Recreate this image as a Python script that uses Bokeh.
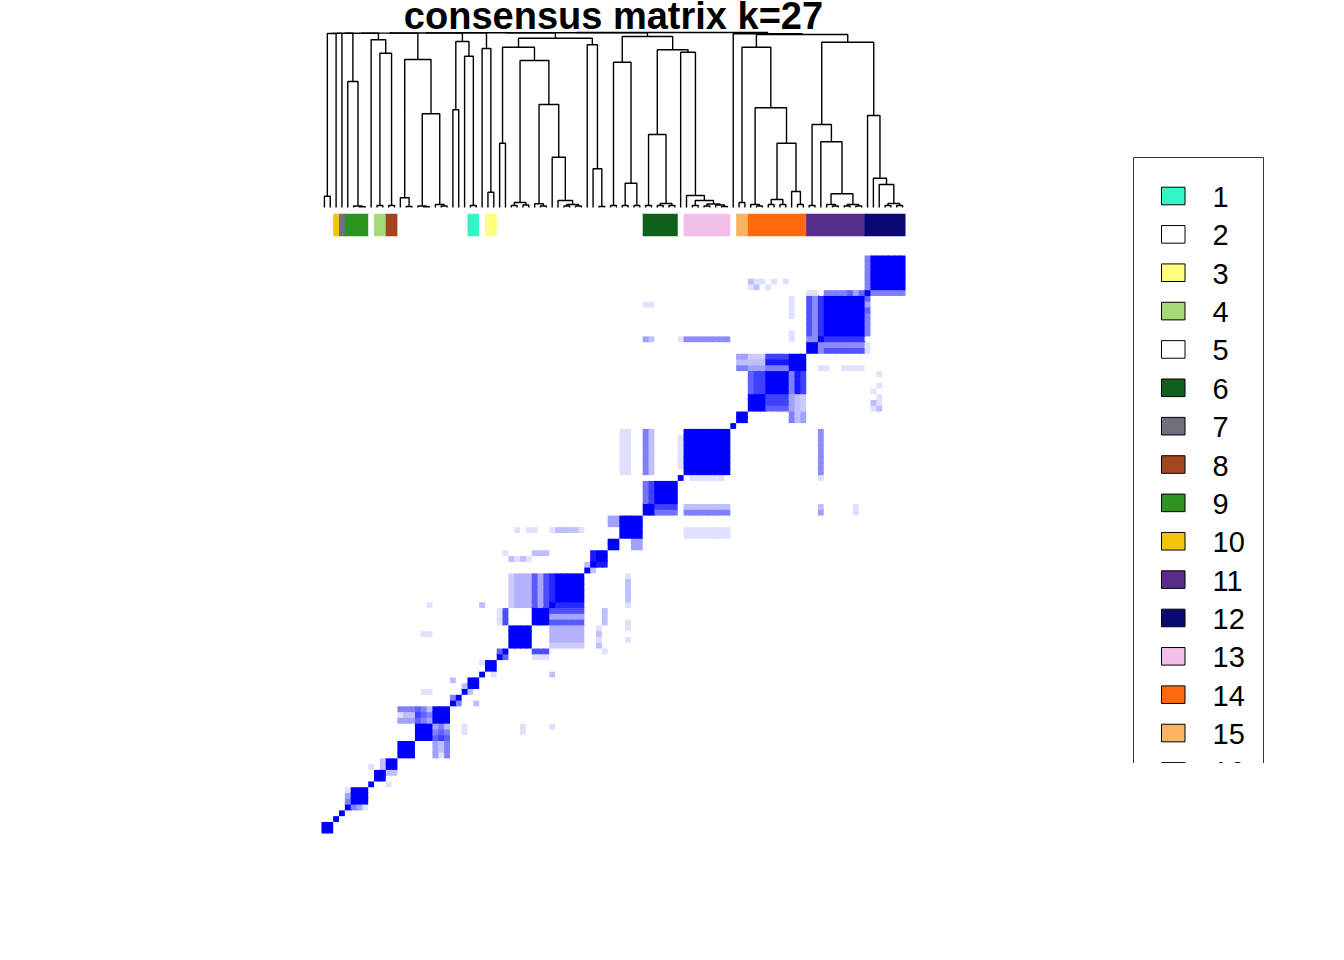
import numpy as np
from bokeh.plotting import figure
from bokeh.models import Range1d
from bokeh.layouts import row
from bokeh.embed import file_html
from bokeh.resources import INLINE
from bokeh.core.properties import value

# ---------------- data ----------------
TITLE = "consensus matrix k=27"
N_SAMPLES = 100

# diagonal blocks of (almost) full consensus, as sample index ranges
DENSE_BLOCKS = [(0, 1), (2, 2), (3, 3), (4, 4), (5, 7), (8, 8), (9, 10), (11, 12),
                (13, 15), (16, 18), (19, 21), (22, 22), (23, 23), (24, 24), (25, 26),
                (27, 27), (28, 29), (30, 30), (31, 31), (32, 35), (36, 38), (39, 39),
                (40, 44), (45, 45), (46, 48), (49, 50), (51, 54), (55, 56), (57, 60),
                (61, 61), (62, 69), (70, 70), (71, 72), (73, 75), (76, 79), (80, 82),
                (83, 84), (85, 85), (86, 92), (93, 93), (94, 99)]

# partial consensus between sample groups: (i0, i1, j0, j1, consensus)
PAIR_PATCHES = [
    (4, 4, 5, 5, .5), (4, 4, 6, 6, .37), (4, 4, 7, 7, .12),
    (8, 8, 11, 11, .12), (10, 10, 11, 12, .25),
    (13, 15, 19, 19, .37), (13, 13, 20, 20, .12), (14, 15, 20, 20, .25), (13, 15, 21, 21, .5),
    (16, 16, 19, 19, .62), (16, 16, 20, 20, .75), (16, 16, 21, 21, .62),
    (17, 17, 19, 19, .5), (17, 17, 20, 20, .62), (17, 17, 21, 21, .5),
    (18, 18, 19, 19, .37), (18, 18, 20, 20, .5), (18, 18, 21, 21, .25),
    (17, 18, 24, 24, .12), (17, 18, 34, 34, .12), (18, 18, 39, 39, .12),
    (22, 22, 23, 23, .5), (22, 22, 26, 26, .25), (24, 24, 25, 25, .25),
    (27, 27, 29, 29, .12), (27, 27, 39, 39, .25),
    (30, 30, 31, 31, .62), (30, 30, 36, 38, .12), (31, 31, 36, 38, .7), (31, 31, 48, 48, .12),
    (32, 32, 39, 44, .2), (33, 35, 39, 44, .3), (36, 36, 39, 44, .65), (37, 37, 39, 44, .35),
    (38, 38, 39, 44, .7), (39, 39, 40, 44, .85),
    (32, 32, 47, 47, .25), (33, 33, 47, 47, .12), (34, 34, 47, 47, .25), (35, 35, 47, 47, .12),
    (36, 38, 48, 48, .25),
    (33, 33, 52, 52, .12), (35, 36, 52, 52, .12), (39, 39, 52, 52, .12), (40, 43, 52, 52, .25),
    (44, 44, 52, 52, .12),
    (45, 45, 46, 46, .25), (46, 46, 47, 48, .9),
    (49, 50, 53, 54, .37), (51, 52, 62, 69, .12),
    (55, 55, 57, 60, .55), (56, 56, 57, 60, .75),
    (55, 55, 62, 69, .5), (56, 56, 62, 69, .25),
    (55, 55, 85, 85, .37), (56, 56, 85, 85, .25), (61, 61, 85, 85, .12), (62, 69, 85, 85, .45),
    (55, 56, 91, 91, .12), (61, 61, 63, 68, .12),
    (71, 72, 80, 80, .5), (71, 72, 81, 81, .25), (71, 72, 82, 82, .37),
    (73, 73, 76, 79, .62), (74, 75, 76, 79, .75),
    (73, 75, 80, 80, .37), (73, 75, 81, 81, .25), (73, 75, 82, 82, .2),
    (76, 79, 80, 80, .5), (76, 79, 81, 81, .9), (76, 79, 82, 82, .75),
    (73, 73, 95, 95, .25), (74, 75, 95, 95, .12), (73, 73, 94, 94, .12), (74, 74, 94, 94, .25),
    (76, 76, 94, 94, .12), (77, 77, 95, 95, .12), (79, 79, 95, 95, .12),
    (80, 80, 85, 86, .12), (80, 80, 89, 92, .12),
    (83, 84, 85, 85, .45), (83, 83, 86, 92, .68), (84, 84, 86, 92, .45), (85, 85, 86, 92, .8),
    (83, 84, 93, 93, .12), (86, 89, 93, 93, .5), (90, 90, 93, 93, .62), (91, 91, 93, 93, .37),
    (92, 92, 93, 93, .6), (93, 93, 94, 99, .5),
]

# dendrogram nodes: (lo, mid, hi, height) -> merges samples lo..mid-1 with mid..hi
DENDRO_NODES = [
    (0, 70, 99, 175.0), (0, 49, 69, 174.8), (0, 30, 48, 174.7), (0, 27, 29, 174.6),
    (0, 22, 26, 174.5), (0, 13, 21, 174.4), (0, 8, 12, 174.3), (0, 4, 7, 174.2),
    (0, 3, 3, 174.1), (0, 2, 2, 174.0), (0, 1, 1, 11.3),
    (4, 5, 7, 126.0), (5, 6, 7, 1.5), (6, 7, 7, 0.8),
    (8, 9, 12, 167.7), (9, 11, 12, 154.3), (9, 10, 10, 2.0), (11, 12, 12, 2.0),
    (13, 16, 21, 148.0), (13, 14, 15, 9.7), (14, 15, 15, 1.0),
    (16, 19, 21, 93.7), (16, 17, 18, 1.5), (17, 18, 18, 0.8), (19, 20, 21, 3.0), (20, 21, 21, 1.5),
    (22, 24, 26, 166.0), (22, 23, 23, 97.7), (24, 25, 26, 151.3), (25, 26, 26, 2.0),
    (27, 28, 29, 159.0), (28, 29, 29, 15.3),
    (30, 45, 48, 169.3), (30, 32, 44, 160.3), (30, 31, 31, 64.3),
    (32, 36, 44, 147.0), (32, 34, 35, 5.0), (32, 33, 33, 2.0), (34, 35, 35, 2.5),
    (36, 39, 44, 103.0), (36, 37, 38, 3.7), (37, 38, 38, 1.5),
    (39, 40, 44, 50.3), (40, 41, 44, 7.0), (41, 43, 44, 3.0), (41, 42, 42, 1.5), (43, 44, 44, 1.5),
    (45, 46, 48, 162.7), (46, 47, 48, 38.7), (47, 48, 48, 1.0),
    (49, 55, 69, 171.0), (49, 51, 54, 145.3), (49, 50, 50, 2.0),
    (51, 53, 54, 24.3), (51, 52, 52, 2.0), (53, 54, 54, 2.0),
    (55, 61, 69, 157.7), (55, 57, 60, 73.0), (55, 56, 56, 2.0),
    (57, 59, 60, 4.0), (57, 58, 58, 2.0), (59, 60, 60, 2.0),
    (61, 62, 69, 155.3), (62, 63, 69, 12.0), (63, 65, 69, 7.0), (63, 64, 64, 2.0),
    (65, 67, 69, 3.5), (65, 66, 66, 1.5), (67, 68, 69, 2.5), (68, 69, 69, 1.0),
    (70, 71, 99, 173.7), (71, 83, 99, 173.0), (71, 73, 82, 160.3), (71, 72, 72, 5.0),
    (73, 76, 82, 99.7), (73, 74, 75, 3.0), (74, 75, 75, 1.5),
    (76, 80, 82, 64.3), (76, 78, 79, 8.0), (76, 77, 77, 3.0), (78, 79, 79, 3.0),
    (80, 81, 82, 16.0), (81, 82, 82, 3.0),
    (83, 93, 99, 165.3), (83, 85, 92, 83.0), (83, 84, 84, 2.0),
    (85, 86, 92, 65.7), (86, 89, 92, 13.7), (86, 87, 88, 3.0), (87, 88, 88, 1.5),
    (89, 91, 92, 3.0), (89, 90, 90, 1.5), (91, 92, 92, 1.5),
    (93, 94, 99, 92.0), (94, 95, 99, 29.3), (95, 96, 99, 23.0),
    (96, 98, 99, 4.0), (96, 97, 97, 2.0), (98, 99, 99, 2.0),
]

# class of each sample, run-length encoded (class, count), in column order
CLASS_RUNS = [(2, 2), (10, 1), (7, 1), (9, 4), (5, 1), (4, 2), (8, 2), (2, 12), (1, 2),
              (5, 1), (3, 2), (2, 25), (6, 6), (5, 1), (13, 8), (2, 1), (15, 2), (14, 10),
              (11, 10), (12, 7)]

LEGEND_LABELS = [str(k) for k in range(1, 17)]
CLASS_COLORS = {1: "#33F5C6", 2: "#FFFFFF", 3: "#FFFF80", 4: "#A6DA76", 5: "#FFFFFF",
                6: "#115F1C", 7: "#6F6F7E", 8: "#A3461F", 9: "#2E9421", 10: "#F2C40C",
                11: "#572B8A", 12: "#0A0875", 13: "#F2BEEA", 14: "#FF6A0D", 15: "#FAB263",
                16: "#33F5C6"}

# ---------------- layout constants (pixels) ----------------
MAIN_W, LEG_W, H = 1120, 224, 960
MAT_X0, MAT_X1 = 321.0, 905.0
MAT_Y0, MAT_Y1 = 255.0, 833.0
DEN_BASE = 207.0
BAR_TOP, BAR_BOT = 213.3, 235.7

# ---------------- consensus matrix ----------------
M = np.zeros((N_SAMPLES, N_SAMPLES))
for a, b in DENSE_BLOCKS:
    M[a:b + 1, a:b + 1] = 1.0
for i0, i1, j0, j1, v in PAIR_PATCHES:
    M[i0:i1 + 1, j0:j1 + 1] = v
    M[j0:j1 + 1, i0:i1 + 1] = v


def ramp(t):
    # white -> blue
    c = int(round(255 * (1.0 - t)))
    return "#%02x%02xff" % (c, c)


OVER = 0.2  # overlap into a filled neighbour so that no hairline seams show
cl, cr, cb, ct, cc = [], [], [], [], []
for i in range(N_SAMPLES):
    for j in range(N_SAMPLES):
        v = M[i, j]
        if v > 0.01:
            right_fill = i + 1 < N_SAMPLES and M[i + 1, j] > 0.01
            top_fill = j + 1 < N_SAMPLES and M[i, j + 1] > 0.01
            cl.append(i); cr.append(i + 1 + (OVER if right_fill else 0))
            cb.append(j); ct.append(j + 1 + (OVER if top_fill else 0))
            cc.append(ramp(v))

# ---------------- dendrogram ----------------
NODE = {(lo, hi): (mid, h) for lo, mid, hi, h in DENDRO_NODES}
dxs, dys = [], []


def walk(lo, hi):
    if lo == hi:
        return lo + 0.5, 0.0
    mid, h = NODE[(lo, hi)]
    xl, hl = walk(lo, mid - 1)
    xr, hr = walk(mid, hi)
    dxs.append([xl, xl, xr, xr])
    dys.append([hl, h, h, hr])
    return (xl + xr) / 2.0, h


walk(0, N_SAMPLES - 1)

# ---------------- main figure ----------------
p = figure(width=MAIN_W, height=H, output_backend="svg", toolbar_location=None,
           x_range=Range1d(0, MAIN_W), y_range=Range1d(H, 0),
           x_axis_location=None, y_axis_location=None, min_border=0,
           background_fill_color="white", border_fill_color="white")
p.outline_line_color = None
p.xgrid.visible = False
p.ygrid.visible = False

cw = (MAT_X1 - MAT_X0) / N_SAMPLES
ch = (MAT_Y1 - MAT_Y0) / N_SAMPLES
p.extra_x_ranges = {"mx": Range1d(-MAT_X0 / cw, (MAIN_W - MAT_X0) / cw)}
p.extra_y_ranges = {"my": Range1d(-(H - MAT_Y1) / ch, MAT_Y1 / ch),
                    "dy": Range1d(-(H - DEN_BASE), DEN_BASE)}

p.quad(left=cl, right=cr, bottom=cb, top=ct, fill_color=cc, line_color=None,
       x_range_name="mx", y_range_name="my")

p.multi_line(xs=dxs, ys=dys, line_color="black", line_width=1.4,
             x_range_name="mx", y_range_name="dy")

# class colour bar
bl, br, bc = [], [], []
pos = 0
for k, n in CLASS_RUNS:
    bl.append(pos); br.append(pos + n + (OVER if pos + n < N_SAMPLES else 0))
    bc.append(CLASS_COLORS[k])
    pos += n
p.quad(left=bl, right=br, top=BAR_TOP, bottom=BAR_BOT, fill_color=bc, line_color=None,
       x_range_name="mx")

p.text(x=[N_SAMPLES / 2.0], y=[15.5], text=[TITLE], x_range_name="mx",
       text_font=value("Liberation Sans"), text_font_style="bold", text_font_size="38px",
       text_align="center", text_baseline="middle", text_color="black")

# ---------------- legend figure ----------------
LEG_H = 763
lp = figure(width=LEG_W, height=LEG_H, output_backend="svg", toolbar_location=None,
            x_range=Range1d(MAIN_W, MAIN_W + LEG_W), y_range=Range1d(LEG_H, 0),
            x_axis_location=None, y_axis_location=None, min_border=0,
            background_fill_color="white", border_fill_color="white")
lp.outline_line_color = None
lp.xgrid.visible = False
lp.ygrid.visible = False

lp.quad(left=1133, right=1263, top=157, bottom=1000, fill_color=None,
        line_color="#333333", line_width=1)
LEG_Y0, LEG_DY = 196.5, 38.36
ly = [LEG_Y0 + k * LEG_DY for k in range(len(LEGEND_LABELS))]
lc = [CLASS_COLORS[int(s)] for s in LEGEND_LABELS]
lp.quad(left=1161, right=1184.5, top=[y - 9.8 for y in ly], bottom=[y + 7.8 for y in ly],
        fill_color=lc, line_color="black", line_width=1)
lp.text(x=1212, y=ly, text=LEGEND_LABELS, text_font=value("Liberation Sans"),
        text_font_size="29px", text_align="left", text_baseline="middle", text_color="black")

layout = row(p, lp)
open("out.html", "w").write(file_html(layout, INLINE))
